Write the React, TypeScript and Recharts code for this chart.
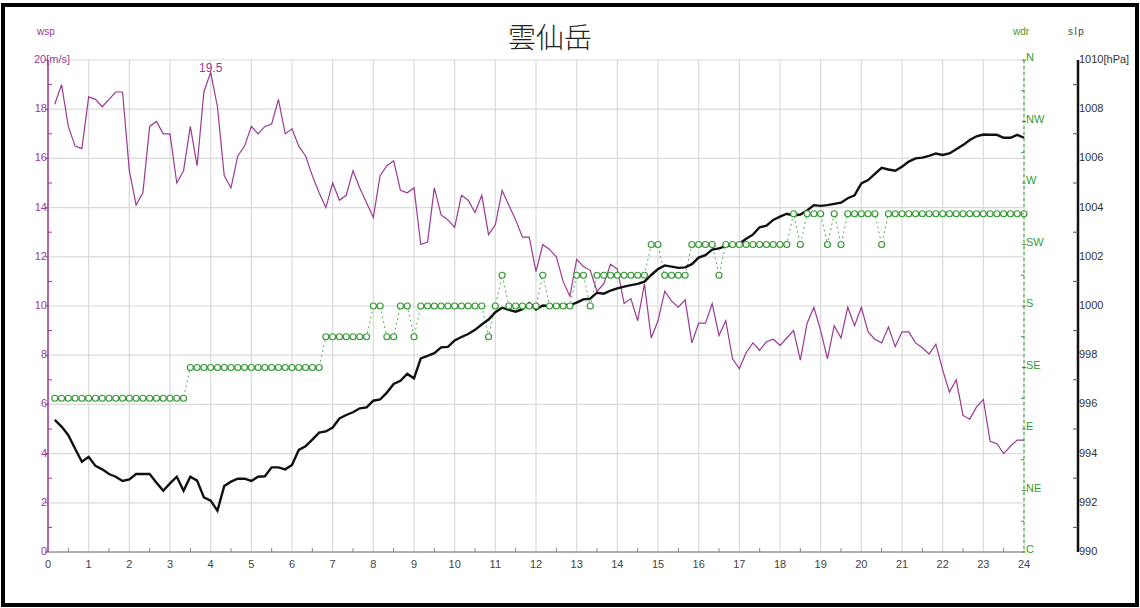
import React from 'react';
import { LineChart, Line, XAxis, YAxis, CartesianGrid } from 'recharts';

// ---- tick values / labels ----
const hourTicks = [0,1,2,3,4,5,6,7,8,9,10,11,12,13,14,15,16,17,18,19,20,21,22,23,24];
const xTicks = [0,0.5,1,1.5,2,2.5,3,3.5,4,4.5,5,5.5,6,6.5,7,7.5,8,8.5,9,9.5,10,10.5,11,11.5,12,12.5,13,13.5,14,14.5,15,15.5,16,16.5,17,17.5,18,18.5,19,19.5,20,20.5,21,21.5,22,22.5,23,23.5,24];
const wspTicks = [0,1,2,3,4,5,6,7,8,9,10,11,12,13,14,15,16,17,18,19,20];
const wspGrid = [0,2,4,6,8,10,12,14,16,18,20];
const slpTicks = [990,991,992,993,994,995,996,997,998,999,1000,1001,1002,1003,1004,1005,1006,1007,1008,1009,1010];
const wdrTicks = [0,1,2,3,4,5,6,7,8,9,10,11,12,13,14,15,16];
const wdrLabels: Record<number, string> = { 0: 'C', 2: 'NE', 4: 'E', 6: 'SE', 8: 'S', 10: 'SW', 12: 'W', 14: 'NW', 16: 'N' };

// ---- series (10-minute values, 0:10 .. 24:00) ----
const wspValues = [
  18.2,19.0,17.3,16.5,16.4,18.5,
  18.4,18.1,18.4,18.7,18.7,15.5,
  14.1,14.6,17.3,17.5,17.0,17.0,
  15.0,15.5,17.3,15.7,18.7,19.5,
  18.1,15.3,14.8,16.1,16.5,17.3,
  17.0,17.3,17.4,18.4,17.0,17.2,
  16.5,16.1,15.3,14.6,14.0,15.0,
  14.3,14.5,15.5,14.8,14.2,13.6,
  15.3,15.7,15.9,14.7,14.6,14.8,
  12.5,12.6,14.8,13.7,13.5,13.2,
  14.5,14.3,13.8,14.5,12.9,13.3,
  14.7,14.1,13.5,12.8,12.8,11.4,
  12.5,12.3,12.0,11.0,10.4,11.9,
  11.6,11.45,10.6,10.9,11.7,11.5,
  10.1,10.3,9.4,10.9,8.7,9.4,
  10.6,10.2,9.95,10.25,8.5,9.3,
  9.3,10.1,8.8,9.4,7.85,7.45,
  8.1,8.5,8.2,8.55,8.65,8.4,
  8.7,9.0,7.8,9.3,9.95,9.0,
  7.85,9.2,8.7,9.95,9.2,9.95,
  8.95,8.65,8.5,9.15,8.35,8.95,
  8.95,8.5,8.3,8.05,8.45,7.4,
  6.5,7.0,5.55,5.4,5.9,6.2,
  4.5,4.4,4.0,4.3,4.55,4.55,
];

const slpValues = [
  995.37,995.1,994.75,994.2,993.67,993.87,
  993.5,993.36,993.17,993.06,992.89,992.95,
  993.17,993.17,993.17,992.82,992.49,992.79,
  993.06,992.49,993.06,992.9,992.22,992.09,
  991.68,992.68,992.86,992.98,992.98,992.89,
  993.06,993.08,993.44,993.44,993.36,993.54,
  994.15,994.3,994.57,994.85,994.9,995.06,
  995.43,995.57,995.68,995.84,995.88,996.15,
  996.2,996.48,996.83,996.96,997.24,997.06,
  997.87,997.97,998.08,998.32,998.34,998.6,
  998.74,998.86,999.03,999.25,999.45,999.75,
  999.93,999.84,999.77,999.87,1000.12,999.86,
  1000.02,1000.0,1000.04,1000.04,1000.04,1000.14,
  1000.27,1000.3,1000.54,1000.5,1000.63,1000.72,
  1000.79,1000.85,1000.9,1000.99,1001.26,1001.5,
  1001.65,1001.6,1001.55,1001.57,1001.7,1001.97,
  1002.07,1002.29,1002.34,1002.43,1002.48,1002.53,
  1002.73,1002.9,1003.2,1003.27,1003.5,1003.63,
  1003.75,1003.68,1003.72,1003.88,1004.1,1004.07,
  1004.1,1004.15,1004.2,1004.38,1004.5,1004.98,
  1005.12,1005.37,1005.62,1005.55,1005.5,1005.66,
  1005.87,1006.0,1006.03,1006.1,1006.2,1006.14,
  1006.2,1006.37,1006.54,1006.75,1006.9,1006.97,
  1006.96,1006.96,1006.84,1006.84,1006.96,1006.84,
];

// wind direction on a 16-point scale (0 = calm, 16 = N)
const wdrValues = [
  5,5,5,5,5,5,
  5,5,5,5,5,5,
  5,5,5,5,5,5,
  5,5,6,6,6,6,
  6,6,6,6,6,6,
  6,6,6,6,6,6,
  6,6,6,6,7,7,
  7,7,7,7,7,8,
  8,7,7,8,8,7,
  8,8,8,8,8,8,
  8,8,8,8,7,8,
  9,8,8,8,8,8,
  9,8,8,8,8,9,
  9,8,9,9,9,9,
  9,9,9,9,10,10,
  9,9,9,9,10,10,
  10,10,9,10,10,10,
  10,10,10,10,10,10,
  10,11,10,11,11,11,
  10,11,10,11,11,11,
  11,11,10,11,11,11,
  11,11,11,11,11,11,
  11,11,11,11,11,11,
  11,11,11,11,11,11,
];

const times = wspValues.map((_, i) => (i + 1) / 6);
const data = times.map((t, i) => ({ t, wsp: wspValues[i], slp: slpValues[i], wdr: wdrValues[i] }));
const maxWsp = Math.max(...wspValues);
const maxIdx = wspValues.indexOf(maxWsp);

const PURPLE = '#9a3a92';
const GREEN = '#349a34';
const FONT = '"Liberation Sans", Arial, sans-serif';

const XTick = (props: any) => {
  const { x, y, payload } = props;
  const v = payload.value as number;
  const axisY = y - 7;
  if (Number.isInteger(v)) {
    return (
      <text x={x} y={axisY + 16} textAnchor="middle" fontSize={11} fontFamily={FONT} fill="#444">{v}</text>
    );
  }
  return <line x1={x} x2={x} y1={axisY} y2={axisY - 4} stroke="#888" strokeWidth={1} />;
};

const WspTick = (props: any) => {
  const { x, y, payload } = props;
  const v = payload.value as number;
  const axisX = x + 2;
  if (v % 2 === 1) {
    return <line x1={axisX} x2={axisX + 4} y1={y} y2={y} stroke={PURPLE} strokeWidth={1} />;
  }
  return (
    <g>
      <line x1={axisX - 3} x2={axisX} y1={y} y2={y} stroke={PURPLE} strokeWidth={1} />
      {v === 20 ? (
        <text x={axisX - 14} y={y + 3} textAnchor="start" fontSize={11} fontFamily={FONT} fill={PURPLE}>20[m/s]</text>
      ) : (
        <text x={axisX - 1} y={y + 3} textAnchor="end" fontSize={11} fontFamily={FONT} fill={PURPLE}>{v}</text>
      )}
    </g>
  );
};

const WdrTick = (props: any) => {
  const { x, y, payload } = props;
  const v = payload.value as number;
  const axisX = x - 2;
  if (v % 2 === 1) {
    return <line x1={axisX - 3} x2={axisX} y1={y} y2={y} stroke={GREEN} strokeWidth={1} />;
  }
  return (
    <g>
      <line x1={axisX - 2} x2={axisX + 2} y1={y} y2={y} stroke={GREEN} strokeWidth={1} />
      <text x={axisX + 2} y={y + 1} textAnchor="start" fontSize={11} fontFamily={FONT} fill={GREEN}>{wdrLabels[v]}</text>
    </g>
  );
};

const SlpTick = (props: any) => {
  const { x, y, payload } = props;
  const v = payload.value as number;
  const axisX = x - 1;
  if (v % 2 === 1) {
    return <line x1={axisX - 5} x2={axisX} y1={y} y2={y} stroke="#555" strokeWidth={1} />;
  }
  return (
    <text x={axisX + 1} y={y + 3} textAnchor="start" fontSize={11} fontFamily={FONT} fill="#333">
      {v === 1010 ? '1010[hPa]' : v}
    </text>
  );
};

const PeakLabel = (props: any) => {
  const { x, y, index, value } = props;
  if (index !== maxIdx) return null;
  return (
    <text x={x} y={y} textAnchor="middle" fontSize={12} fontFamily={FONT} fill={PURPLE}>{value}</text>
  );
};

export default function App() {
  return (
    <div style={{ position: 'absolute', left: 0, top: 0, width: 1140, height: 608, background: '#fff', overflow: 'hidden' }}>
      <div style={{ position: 'absolute', left: 0, top: 0 }}>
        <LineChart width={1140} height={608} data={data} margin={{ top: 60, right: 0, bottom: 26, left: 0 }}>
          <CartesianGrid
            yAxisId="a-wsp"
            stroke="#dadada"
            strokeWidth={1.2}
            horizontalValues={wspGrid}
            verticalValues={hourTicks}
          />
          <XAxis
            dataKey="t"
            type="number"
            domain={[0, 24]}
            ticks={xTicks}
            interval={0}
            height={30}
            tickSize={0}
            tickMargin={7}
            tickLine={false}
            axisLine={{ stroke: '#777', strokeWidth: 1 }}
            tick={XTick}
          />
          <YAxis
            yAxisId="a-wsp"
            domain={[0, 20]}
            ticks={wspTicks}
            interval={0}
            width={48}
            tickSize={0}
            tickMargin={2}
            tickLine={false}
            axisLine={{ stroke: PURPLE, strokeWidth: 1.5 }}
            tick={WspTick}
          />
          <YAxis
            yAxisId="b-wdr"
            orientation="right"
            domain={[0, 16]}
            ticks={wdrTicks}
            interval={0}
            width={54}
            tickSize={0}
            tickMargin={2}
            tickLine={false}
            axisLine={{ stroke: GREEN, strokeWidth: 1, strokeDasharray: '3 3' }}
            tick={WdrTick}
          />
          <YAxis
            yAxisId="c-slp"
            orientation="right"
            domain={[990, 1010]}
            ticks={slpTicks}
            interval={0}
            width={62}
            tickSize={0}
            tickMargin={1}
            tickLine={false}
            axisLine={{ stroke: '#111', strokeWidth: 2.5 }}
            tick={SlpTick}
          />
          <Line
            yAxisId="b-wdr"
            type="linear"
            dataKey="wdr"
            stroke="#5aaa5a"
            strokeWidth={1}
            strokeDasharray="2 3"
            dot={{ r: 3, stroke: GREEN, strokeWidth: 1.2, fill: '#fff', strokeDasharray: 'none' }}
            isAnimationActive={false}
          />
          <Line
            yAxisId="a-wsp"
            type="linear"
            dataKey="wsp"
            stroke={PURPLE}
            strokeWidth={1.2}
            dot={false}
            label={PeakLabel}
            isAnimationActive={false}
          />
          <Line
            yAxisId="c-slp"
            type="linear"
            dataKey="slp"
            stroke="#111"
            strokeWidth={2.4}
            dot={false}
            isAnimationActive={false}
          />
        </LineChart>
      </div>
      <svg width={1140} height={608} style={{ position: 'absolute', left: 0, top: 0, pointerEvents: 'none' }}>
        <text x={550} y={48} textAnchor="middle" fontSize={28} fontWeight={300} fontFamily='"Noto Sans CJK JP", sans-serif' fill="#222">雲仙岳</text>
        <text x={37} y={35} fontSize={10} fontFamily={FONT} fill={PURPLE}>wsp</text>
        <text x={1013} y={35} fontSize={10} fontFamily={FONT} fill={GREEN}>wdr</text>
        <text x={1068} y={35} fontSize={10} fontFamily={FONT} fill="#444" letterSpacing={1.5}>slp</text>
      </svg>
      <div style={{ position: 'absolute', left: 1, top: 3, width: 1138, height: 604, border: '4px solid #000', boxSizing: 'border-box', pointerEvents: 'none' }} />
    </div>
  );
}
